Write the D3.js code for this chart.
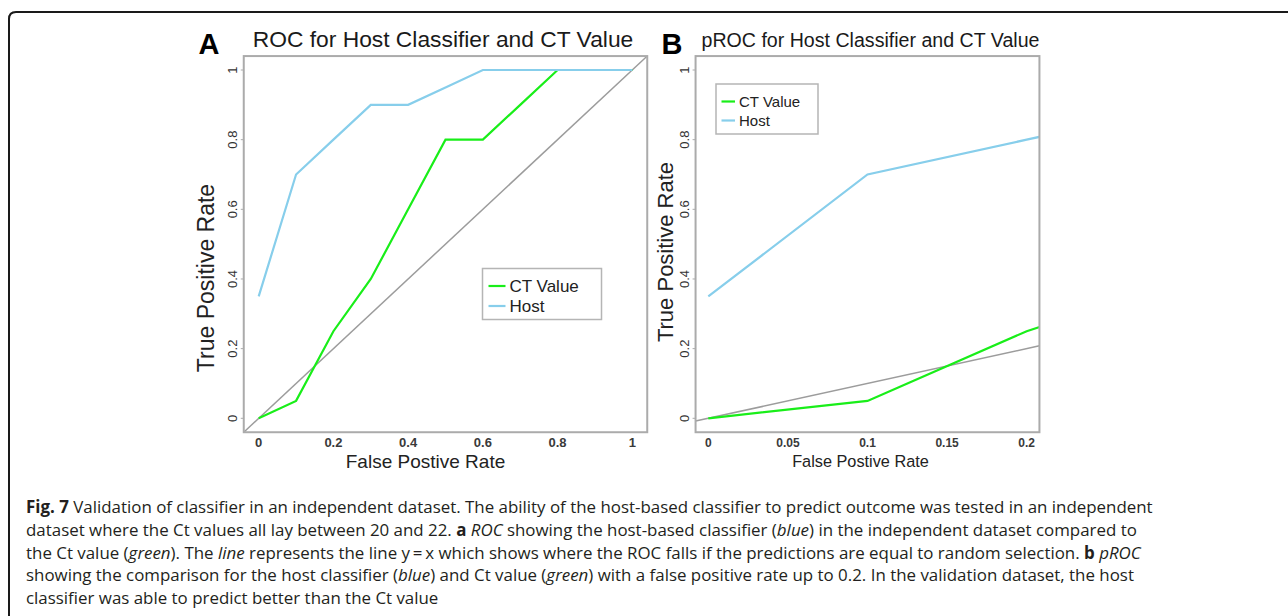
<!DOCTYPE html>
<html>
<head>
<meta charset="utf-8">
<script src="https://cdn.jsdelivr.net/npm/d3@7"></script>
<style>
  body { margin: 0; background: #fff; }
  svg { display: block; }
</style>
</head>
<body>
<svg width="1288" height="616"></svg>
<script>
// ROC points (false positive rate vs true positive rate)
var fpr = [0, 0.1, 0.2, 0.3, 0.4, 0.5, 0.6, 0.7, 0.8, 0.9, 1.0];
var hostTpr = [0.35, 0.7, 0.8, 0.9, 0.9, 0.95, 1.0, 1.0, 1.0, 1.0, 1.0];
var ctTpr = [0, 0.05, 0.25, 0.4, 0.6, 0.8, 0.8, 0.9, 1.0, 1.0, 1.0];
var yTicks = [0, 0.2, 0.4, 0.6, 0.8, 1];
var xTicksA = [0, 0.2, 0.4, 0.6, 0.8, 1];
var xTicksB = [0, 0.05, 0.1, 0.15, 0.2];
var seriesNames = ["CT Value", "Host"];
var seriesColors = ["#19ee19", "#87ceeb"];

var svg = d3.select("svg");
var sans = "'Liberation Sans', Arial, Helvetica, sans-serif";

// outer frame of the figure
svg.append("path")
    .attr("d", "M9,616 V19 Q9,12 16,12 H1288")
    .attr("fill", "none")
    .attr("stroke", "#1a1a1a")
    .attr("stroke-width", 2);

function panel(cfg) {
    var x = d3.scaleLinear().domain(cfg.xDomain).range(cfg.xRange);
    var y = d3.scaleLinear().domain([0, 1]).range([418.3, 70]);
    var ext = (cfg.xDomain[1] - cfg.xDomain[0]) * 0.04;
    var x0 = x(cfg.xDomain[0] - ext), x1 = x(cfg.xDomain[1] + ext);
    var y0 = y(-0.04), y1 = y(1.04);

    var g = svg.append("g");
    var clipId = "clip" + cfg.id;
    g.append("clipPath").attr("id", clipId)
        .append("rect")
        .attr("x", x0).attr("y", y1)
        .attr("width", x1 - x0).attr("height", y0 - y1);

    var plot = g.append("g").attr("clip-path", "url(#" + clipId + ")");

    // y = x reference line
    var dx = [cfg.xDomain[0] - ext, cfg.xDomain[1] + ext];
    plot.append("line")
        .attr("x1", x(dx[0])).attr("y1", y(dx[0]))
        .attr("x2", x(dx[1])).attr("y2", y(dx[1]))
        .attr("stroke", "#9c9c9c")
        .attr("stroke-width", 1.5);

    var line = d3.line()
        .x(function(d) { return x(d[0]); })
        .y(function(d) { return y(d[1]); });

    plot.append("path")
        .datum(d3.zip(fpr, ctTpr))
        .attr("d", line)
        .attr("fill", "none")
        .attr("stroke", seriesColors[0])
        .attr("stroke-width", 2.2);
    plot.append("path")
        .datum(d3.zip(fpr, hostTpr))
        .attr("d", line)
        .attr("fill", "none")
        .attr("stroke", seriesColors[1])
        .attr("stroke-width", 2.2);

    // box
    g.append("rect")
        .attr("x", x0).attr("y", y1)
        .attr("width", x1 - x0).attr("height", y0 - y1)
        .attr("fill", "none")
        .attr("stroke", "#ababab")
        .attr("stroke-width", 2);

    // y ticks (small marks + rotated labels)
    g.selectAll(".ytick").data(yTicks).enter().append("line")
        .attr("x1", x0 - 3).attr("x2", x0)
        .attr("y1", function(d) { return y(d); })
        .attr("y2", function(d) { return y(d); })
        .attr("stroke", "#ababab");
    g.selectAll(".ylab").data(yTicks).enter().append("text")
        .attr("x", x0 - 11.5)
        .attr("y", function(d) { return y(d); })
        .attr("dy", "0.35em")
        .attr("transform", function(d) { return "rotate(-90," + (x0 - 11.5) + "," + y(d) + ")"; })
        .attr("text-anchor", "middle")
        .style("font-family", sans)
        .style("font-size", "13px")
        .style("fill", "#333")
        .text(d3.format("~g"));

    // x tick labels
    g.selectAll(".xlab").data(cfg.xTicks).enter().append("text")
        .attr("x", function(d) { return x(d); })
        .attr("y", 442.7)
        .attr("dy", "0.36em")
        .attr("text-anchor", "middle")
        .style("font-family", sans)
        .style("font-size", cfg.xTickSize)
        .style("font-weight", "bold")
        .style("fill", "#3a3a3a")
        .text(d3.format("~g"));

    // titles
    g.append("text")
        .attr("x", cfg.titleX).attr("y", 46.5)
        .attr("text-anchor", "middle")
        .style("font-family", sans)
        .style("font-size", cfg.titleSize)
        .style("fill", "#1a1a1a")
        .text(cfg.title);
    g.append("text")
        .attr("x", cfg.letterX).attr("y", 54)
        .attr("text-anchor", "middle")
        .style("font-family", sans)
        .style("font-size", "29px")
        .style("font-weight", "bold")
        .style("fill", "#000")
        .text(cfg.letter);
    g.append("text")
        .attr("x", cfg.xTitleX).attr("y", 461.5)
        .attr("dy", "0.35em")
        .attr("text-anchor", "middle")
        .style("font-family", sans)
        .style("font-size", cfg.xTitleSize)
        .style("fill", "#222")
        .text("False Postive Rate");
    g.append("text")
        .attr("transform", "translate(" + cfg.yTitleX + "," + cfg.yTitleY + ") rotate(-90)")
        .attr("text-anchor", "middle")
        .style("font-family", sans)
        .style("font-size", cfg.yTitleSize)
        .style("fill", "#222")
        .text("True Positive Rate");

    // legend
    var lg = cfg.legend;
    g.append("rect")
        .attr("x", lg.x).attr("y", lg.y)
        .attr("width", lg.w).attr("height", lg.h)
        .attr("fill", "#fff")
        .attr("stroke", "#b5b5b5")
        .attr("stroke-width", 1.5);
    var items = g.selectAll(".leg").data(seriesNames).enter().append("g")
        .attr("transform", function(d, i) { return "translate(" + (lg.x + lg.pad) + "," + (lg.y + lg.row0 + i * lg.step) + ")"; });
    items.append("line")
        .attr("x1", 0).attr("x2", lg.len)
        .attr("stroke", function(d, i) { return seriesColors[i]; })
        .attr("stroke-width", 2.2);
    items.append("text")
        .attr("x", lg.len + 4)
        .attr("dy", "0.36em")
        .style("font-family", sans)
        .style("font-size", lg.font)
        .style("fill", "#222")
        .text(function(d) { return d; });
}

panel({
    id: "A", letter: "A", letterX: 209, title: "ROC for Host Classifier and CT Value",
    titleX: 443, titleSize: "22.8px",
    xDomain: [0, 1], xRange: [258.7, 632.3], xTicks: xTicksA, xTickSize: "13px",
    xTitleX: 425.5, xTitleSize: "19px", yTitleX: 214, yTitleY: 278, yTitleSize: "23px",
    legend: { x: 482.5, y: 268.5, w: 119, h: 51, pad: 6, len: 17, row0: 17.5, step: 20, font: "17px" }
});
panel({
    id: "B", letter: "B", letterX: 672, title: "pROC for Host Classifier and CT Value",
    titleX: 870.5, titleSize: "19.6px",
    xDomain: [0, 0.2], xRange: [708.3, 1026.7], xTicks: xTicksB, xTickSize: "12px",
    xTitleX: 860.5, xTitleSize: "16.3px", yTitleX: 673, yTitleY: 252, yTitleSize: "22px",
    legend: { x: 716, y: 84, w: 102, h: 50, pad: 5.5, len: 13.5, row0: 17.5, step: 19, font: "15px" }
});

// caption
var caption = [
    [["b", "Fig. 7"], ["n", " Validation of classifier in an independent dataset. The ability of the host-based classifier to predict outcome was tested in an independent"]],
    [["n", "dataset where the Ct values all lay between 20 and 22. "], ["b", "a"], ["n", " "], ["i", "ROC"], ["n", " showing the host-based classifier ("], ["i", "blue"], ["n", ") in the independent dataset compared to"]],
    [["n", "the Ct value ("], ["i", "green"], ["n", "). The "], ["i", "line"], ["n", " represents the line y\u2009=\u2009x which shows where the ROC falls if the predictions are equal to random selection. "], ["b", "b"], ["n", " "], ["i", "pROC"]],
    [["n", "showing the comparison for the host classifier ("], ["i", "blue"], ["n", ") and Ct value ("], ["i", "green"], ["n", ") with a false positive rate up to 0.2. In the validation dataset, the host"]],
    [["n", "classifier was able to predict better than the Ct value"]]
];
var capG = svg.append("g")
    .style("font-family", "'Open Sans', 'Noto Sans', sans-serif")
    .style("font-size", "16.9px")
    .style("fill", "#231f20");
caption.forEach(function(parts, i) {
    var t = capG.append("text")
        .attr("x", 26)
        .attr("y", 513 + i * 22.8)
        .attr("xml:space", "preserve");
    parts.forEach(function(p) {
        t.append("tspan")
            .style("font-weight", p[0] === "b" ? "bold" : "normal")
            .style("font-style", p[0] === "i" ? "italic" : "normal")
            .text(p[1]);
    });
});
</script>
</body>
</html>
